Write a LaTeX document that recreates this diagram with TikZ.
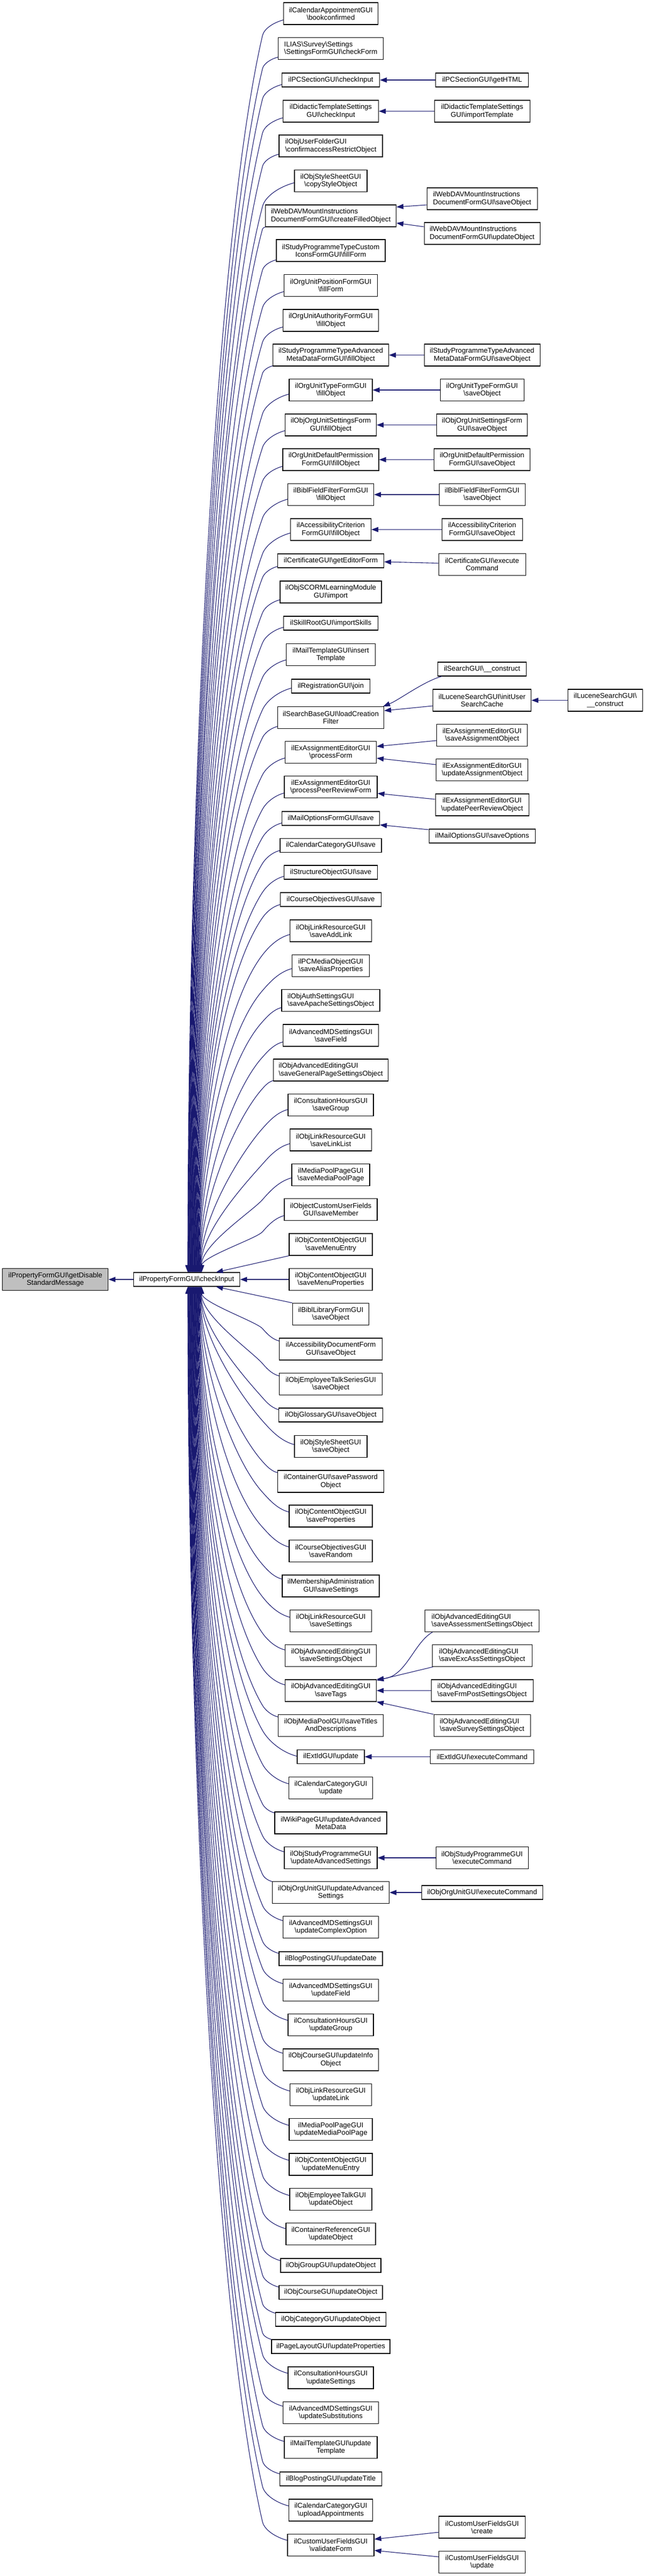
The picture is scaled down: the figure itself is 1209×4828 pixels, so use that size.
\documentclass[tikz,border=0pt]{standalone}
\usepackage{fontspec}
\setmainfont{Liberation Sans}
\usetikzlibrary{arrows.meta,calc}
\definecolor{edgeblue}{HTML}{191970}
\definecolor{rootgray}{HTML}{BFBFBF}
\newcommand\bksl{\textbackslash}
\tikzset{
  fn/.style={draw=black, line width=1.2pt, fill=white, inner sep=0pt, align=center,
     font=\fontsize{13.2pt}{14.3pt}\selectfont, minimum height=41pt},
  one/.style={minimum height=26pt},
  lft/.style={align=left},
  edge/.style={draw=edgeblue, line width=1.1pt, -{Triangle[length=13pt,width=9.5pt]}},
}
% column 3 and column 4 node helpers
\newcommand\nodeC[4][]{\node[fn,#1,minimum width=#3pt] (#2) at (620,-#4)}
\newcommand\nodeD[4][]{\node[fn,#1,minimum width=#3pt] (#2) at (903.6,-#4)}
\newcommand\upedge[2]{%
\draw[edge] let \p4=(#1.east), \p5=(#1.west), \p6=(#1.north),
  \n5={min(\y6-\y4,0.4*((\x4-\x5)/2-60)*(\y6-\y4)/20.5)},
  \p1=({\x5},{\y4-\n5}),
  \n6={\x1-492},
  \p3=({492},{\y1-0.75*\n6}),
  \p2=([xshift=#2pt]ci.north),
  \n1={\y3-\y2},
  \n2={0.63*min(1,\n1/500)*(\x3-\x2)},
  \n3={0.164*\n1},
  \n4={veclen(\n2,\n3)}
 in (\p1) .. controls ({\x1-0.45*\n6},{\y1-0.12*\n6}) and ({\x3+0.35*\n6*\n2/\n4},{\y3+0.35*\n6*\n3/\n4}) .. (\p3)
 .. controls ({\x3-\n2},{\y3-\n3}) and ({\x2},{\y2+0.38*\n1}) .. (\p2);}
\newcommand\downedge[2]{%
\draw[edge] let \p4=(#1.east), \p5=(#1.west), \p6=(#1.north),
  \n5={min(\y6-\y4,0.4*((\x4-\x5)/2-60)*(\y6-\y4)/20.5)},
  \p1=({\x5},{\y4+\n5}),
  \n6={\x1-492},
  \p3=({492},{\y1+0.75*\n6}),
  \p2=([xshift=#2pt]ci.south),
  \n1={\y2-\y3},
  \n2={0.63*min(1,\n1/500)*(\x3-\x2)},
  \n3={0.164*\n1},
  \n4={veclen(\n2,\n3)}
 in (\p1) .. controls ({\x1-0.45*\n6},{\y1+0.12*\n6}) and ({\x3+0.35*\n6*\n2/\n4},{\y3-0.35*\n6*\n3/\n4}) .. (\p3)
 .. controls ({\x3-\n2},{\y3+\n3}) and ({\x2},{\y2-0.38*\n1}) .. (\p2);}
\begin{document}
\begin{tikzpicture}[x=1pt,y=1pt]
\useasboundingbox (0,0) rectangle (1209,-4828);
\fill[white] (0,0) rectangle (1209,-4828);

% root and checkInput
\node[fn, fill=rootgray, minimum width=198pt] (root) at (103.7,-2398) {ilPropertyFormGUI\bksl getDisable\\StandardMessage};
\node[fn, one, minimum width=199pt] (ci) at (350,-2398) {ilPropertyFormGUI\bksl checkInput};

% column 3
\nodeC{n1}{177}{25.5} {ilCalendarAppointmentGUI\\\bksl bookconfirmed};
\nodeC[lft]{n2}{197}{91} {ILIAS\bksl Survey\bksl Settings\\\bksl SettingsFormGUI\bksl checkForm};
\nodeC[one]{n3}{183}{150} {ilPCSectionGUI\bksl checkInput};
\nodeC{n4}{179}{208.5} {ilDidacticTemplateSettings\\GUI\bksl checkInput};
\nodeC[lft]{n5}{194}{273.5} {ilObjUserFolderGUI\\\bksl confirmaccessRestrictObject};
\nodeC{n6}{136}{339} {ilObjStyleSheetGUI\\\bksl copyStyleObject};
\nodeC[lft]{n7}{245}{404.5} {ilWebDAVMountInstructions\\DocumentFormGUI\bksl createFilledObject};
\nodeC{n8}{204}{469.5} {ilStudyProgrammeTypeCustom\\IconsFormGUI\bksl fillForm};
\nodeC{n9}{175}{535} {ilOrgUnitPositionFormGUI\\\bksl fillForm};
\nodeC{n10}{179}{600.5} {ilOrgUnitAuthorityFormGUI\\\bksl fillObject};
\nodeC{n11}{217}{665.5} {ilStudyProgrammeTypeAdvanced\\MetaDataFormGUI\bksl fillObject};
\nodeC{n12}{156}{731} {ilOrgUnitTypeFormGUI\\\bksl fillObject};
\nodeC{n13}{171}{796.5} {ilObjOrgUnitSettingsForm\\GUI\bksl fillObject};
\nodeC{n14}{180}{861.5} {ilOrgUnitDefaultPermission\\FormGUI\bksl fillObject};
\nodeC{n15}{161}{927} {ilBiblFieldFilterFormGUI\\\bksl fillObject};
\nodeC{n16}{151}{992.5} {ilAccessibilityCriterion\\FormGUI\bksl fillObject};
\nodeC[one]{n17}{199}{1051} {ilCertificateGUI\bksl getEditorForm};
\nodeC{n18}{190}{1109.5} {ilObjSCORMLearningModule\\GUI\bksl import};
\nodeC[one]{n19}{177}{1168} {ilSkillRootGUI\bksl importSkills};
\nodeC{n20}{167}{1227} {ilMailTemplateGUI\bksl insert\\Template};
\nodeC[one]{n21}{147}{1286} {ilRegistrationGUI\bksl join};
\nodeC{n22}{199}{1345} {ilSearchBaseGUI\bksl loadCreation\\Filter};
\nodeC{n23}{171}{1410} {ilExAssignmentEditorGUI\\\bksl processForm};
\nodeC{n24}{174}{1475} {ilExAssignmentEditorGUI\\\bksl processPeerReviewForm};
\nodeC[one]{n25}{183}{1534} {ilMailOptionsFormGUI\bksl save};
\nodeC[one]{n26}{190}{1584.5} {ilCalendarCategoryGUI\bksl save};
\nodeC[one]{n27}{175}{1635} {ilStructureObjectGUI\bksl save};
\nodeC[one]{n28}{189}{1686} {ilCourseObjectivesGUI\bksl save};
\nodeC{n29}{153}{1744.5} {ilObjLinkResourceGUI\\\bksl saveAddLink};
\nodeC{n30}{145}{1810} {ilPCMediaObjectGUI\\\bksl saveAliasProperties};
\nodeC[lft]{n31}{184}{1875} {ilObjAuthSettingsGUI\\\bksl saveApacheSettingsObject};
\nodeC{n32}{179}{1940.5} {ilAdvancedMDSettingsGUI\\\bksl saveField};
\nodeC[lft]{n33}{215}{2005.5} {ilObjAdvancedEditingGUI\\\bksl saveGeneralPageSettingsObject};
\nodeC{n34}{160}{2071} {ilConsultationHoursGUI\\\bksl saveGroup};
\nodeC{n35}{153}{2136.5} {ilObjLinkResourceGUI\\\bksl saveLinkList};
\nodeC{n36}{146}{2202} {ilMediaPoolPageGUI\\\bksl saveMediaPoolPage};
\nodeC{n37}{174}{2267} {ilObjectCustomUserFields\\GUI\bksl saveMember};
\nodeC{n38}{156}{2332.5} {ilObjContentObjectGUI\\\bksl saveMenuEntry};
\nodeC{n39}{156}{2398} {ilObjContentObjectGUI\\\bksl saveMenuProperties};
\nodeC{n40}{143}{2463} {ilBiblLibraryFormGUI\\\bksl saveObject};
\nodeC{n41}{193}{2528.5} {ilAccessibilityDocumentForm\\GUI\bksl saveObject};
\nodeC{n42}{193}{2594} {ilObjEmployeeTalkSeriesGUI\\\bksl saveObject};
\nodeC[one]{n43}{195}{2652} {ilObjGlossaryGUI\bksl saveObject};
\nodeC{n44}{136}{2711} {ilObjStyleSheetGUI\\\bksl saveObject};
\nodeC{n45}{199}{2776.5} {ilContainerGUI\bksl savePassword\\Object};
\nodeC{n46}{156}{2841.5} {ilObjContentObjectGUI\\\bksl saveProperties};
\nodeC{n47}{156}{2907} {ilCourseObjectivesGUI\\\bksl saveRandom};
\nodeC{n48}{182}{2972.5} {ilMembershipAdministration\\GUI\bksl saveSettings};
\nodeC{n49}{153}{3038} {ilObjLinkResourceGUI\\\bksl saveSettings};
\nodeC{n50}{171}{3103} {ilObjAdvancedEditingGUI\\\bksl saveSettingsObject};
\nodeC{n51}{171}{3168.5} {ilObjAdvancedEditingGUI\\\bksl saveTags};
\nodeC{n52}{197}{3234} {ilObjMediaPoolGUI\bksl saveTitles\\AndDescriptions};
\nodeC[one]{n53}{126}{3292.5} {ilExtIdGUI\bksl update};
\nodeC{n54}{157}{3351} {ilCalendarCategoryGUI\\\bksl update};
\nodeC{n55}{210}{3416.5} {ilWikiPageGUI\bksl updateAdvanced\\MetaData};
\nodeC{n56}{174}{3482} {ilObjStudyProgrammeGUI\\\bksl updateAdvancedSettings};
\nodeC{n57}{219}{3547} {ilObjOrgUnitGUI\bksl updateAdvanced\\Settings};
\nodeC{n58}{179}{3612} {ilAdvancedMDSettingsGUI\\\bksl updateComplexOption};
\nodeC[one]{n59}{194}{3671} {ilBlogPostingGUI\bksl updateDate};
\nodeC{n60}{179}{3730} {ilAdvancedMDSettingsGUI\\\bksl updateField};
\nodeC{n61}{160}{3795} {ilConsultationHoursGUI\\\bksl updateGroup};
\nodeC{n62}{179}{3860.5} {ilObjCourseGUI\bksl updateInfo\\Object};
\nodeC{n63}{153}{3926} {ilObjLinkResourceGUI\\\bksl updateLink};
\nodeC{n64}{156}{3991} {ilMediaPoolPageGUI\\\bksl updateMediaPoolPage};
\nodeC{n65}{156}{4056.5} {ilObjContentObjectGUI\\\bksl updateMenuEntry};
\nodeC{n66}{154}{4122} {ilObjEmployeeTalkGUI\\\bksl updateObject};
\nodeC{n67}{168}{4187} {ilContainerReferenceGUI\\\bksl updateObject};
\nodeC[one]{n68}{188}{4246} {ilObjGroupGUI\bksl updateObject};
\nodeC[one]{n69}{194}{4296.5} {ilObjCourseGUI\bksl updateObject};
\nodeC[one]{n70}{207}{4347} {ilObjCategoryGUI\bksl updateObject};
\nodeC[one]{n71}{222}{4398} {ilPageLayoutGUI\bksl updateProperties};
\nodeC{n72}{160}{4456.5} {ilConsultationHoursGUI\\\bksl updateSettings};
\nodeC{n73}{179}{4522} {ilAdvancedMDSettingsGUI\\\bksl updateSubstitutions};
\nodeC{n74}{174}{4587} {ilMailTemplateGUI\bksl update\\Template};
\nodeC[one]{n75}{191}{4646} {ilBlogPostingGUI\bksl updateTitle};
\nodeC{n76}{157}{4704.5} {ilCalendarCategoryGUI\\\bksl uploadAppointments};
\nodeC{n77}{162}{4770} {ilCustomUserFieldsGUI\\\bksl validateForm};

% column 4
\nodeD[one]{m3}{174}{150} {ilPCSectionGUI\bksl getHTML};
\nodeD{m4}{179}{208.5} {ilDidacticTemplateSettings\\GUI\bksl importTemplate};
\nodeD[lft]{m7a}{207}{372.5} {ilWebDAVMountInstructions\\DocumentFormGUI\bksl saveObject};
\nodeD[lft]{m7b}{217}{437.5} {ilWebDAVMountInstructions\\DocumentFormGUI\bksl updateObject};
\nodeD{m11}{217}{665.5} {ilStudyProgrammeTypeAdvanced\\MetaDataFormGUI\bksl saveObject};
\nodeD{m12}{157}{731} {ilOrgUnitTypeFormGUI\\\bksl saveObject};
\nodeD{m13}{170}{796.5} {ilObjOrgUnitSettingsForm\\GUI\bksl saveObject};
\nodeD{m14}{180}{861.5} {ilOrgUnitDefaultPermission\\FormGUI\bksl saveObject};
\nodeD{m15}{161}{927} {ilBiblFieldFilterFormGUI\\\bksl saveObject};
\nodeD{m16}{151}{992.5} {ilAccessibilityCriterion\\FormGUI\bksl saveObject};
\nodeD{m17}{163}{1058} {ilCertificateGUI\bksl execute\\Command};
\nodeD[one]{m22a}{166}{1254} {ilSearchGUI\bksl\_\_construct};
\nodeD{m22b}{184}{1312.5} {ilLuceneSearchGUI\bksl initUser\\SearchCache};
\nodeD{m23a}{170}{1378} {ilExAssignmentEditorGUI\\\bksl saveAssignmentObject};
\nodeD{m23b}{172}{1443} {ilExAssignmentEditorGUI\\\bksl updateAssignmentObject};
\nodeD{m24}{175}{1508.5} {ilExAssignmentEditorGUI\\\bksl updatePeerReviewObject};
\nodeD[one]{m25}{199}{1567} {ilMailOptionsGUI\bksl saveOptions};
\nodeD[lft]{m51a}{214}{3038} {ilObjAdvancedEditingGUI\\\bksl saveAssessmentSettingsObject};
\nodeD[lft]{m51b}{187}{3103} {ilObjAdvancedEditingGUI\\\bksl saveExcAssSettingsObject};
\nodeD[lft]{m51c}{191}{3168.5} {ilObjAdvancedEditingGUI\\\bksl saveFrmPostSettingsObject};
\nodeD[lft]{m51d}{181}{3234} {ilObjAdvancedEditingGUI\\\bksl saveSurveySettingsObject};
\nodeD[one]{m53}{194}{3292.5} {ilExtIdGUI\bksl executeCommand};
\nodeD{m56}{173}{3482} {ilObjStudyProgrammeGUI\\\bksl executeCommand};
\nodeD[one]{m57}{227}{3547} {ilObjOrgUnitGUI\bksl executeCommand};
\nodeD{m77a}{162}{4736.5} {ilCustomUserFieldsGUI\\\bksl create};
\nodeD{m77b}{162}{4802} {ilCustomUserFieldsGUI\\\bksl update};

% column 5
\node[fn, minimum width=140pt] (l22) at (1134.5,-1312.5) {ilLuceneSearchGUI\bksl\\\_\_construct};

% edges into checkInput
\foreach \k in {1,...,37} {
  \pgfmathsetmacro\dx{2+26*(\k-1)/36}
  \upedge{n\k}{\dx}
}
\foreach \k in {41,...,77} {
  \pgfmathsetmacro\dx{28-26*(\k-41)/36}
  \downedge{n\k}{\dx}
}
\draw[edge] (n38.south west) -- ([xshift=55pt]ci.north);
\draw[edge] (n39) -- (ci);
\draw[edge] (n40.north west) -- ([xshift=55pt]ci.south);
\draw[edge] (ci) -- (root);

% column 4 -> column 3
\draw[edge] (m3) -- (n3);
\draw[edge] (m4) -- (n4);
\draw[edge] ([yshift=-11.5pt]m7a.west) -- ([yshift=16.5pt]n7.east);
\draw[edge] ([yshift=12.5pt]m7b.west) -- ([yshift=-13.5pt]n7.east);
\draw[edge] (m11) -- (n11);
\draw[edge] (m12) -- (n12);
\draw[edge] (m13) -- (n13);
\draw[edge] (m14) -- (n14);
\draw[edge] (m15) -- (n15);
\draw[edge] (m16) -- (n16);
\draw[edge] ([yshift=2.5pt]m17.west) -- ([yshift=-2pt]n17.east);
\draw[edge] ([xshift=8pt]m22a.south west) .. controls +(-35,-10) and +(30,12) .. ([xshift=-2pt]n22.north east);
\draw[edge] ([yshift=-10.5pt]m22b.west) -- ([yshift=13pt]n22.east);
\draw[edge] (l22) -- (m22b);
\draw[edge] ([yshift=-10pt]m23a.west) -- ([yshift=11pt]n23.east);
\draw[edge] ([yshift=10pt]m23b.west) -- ([yshift=-11pt]n23.east);
\draw[edge] ([yshift=10.5pt]m24.west) -- ([yshift=-12pt]n24.east);
\draw[edge] ([yshift=12pt]m25.west) -- ([yshift=-12pt]n25.east);
\draw[edge] ([xshift=14.5pt]m51a.south west) .. controls +(-35,-20) and +(55,5) .. (n51.north east);
\draw[edge] ([xshift=2pt]m51b.south west) -- ([yshift=-2pt]n51.north east);
\draw[edge] (m51c) -- (n51);
\draw[edge] (m51d.north west) -- (n51.south east);
\draw[edge] (m53) -- (n53);
\draw[edge] (m56) -- (n56);
\draw[edge] (m57) -- (n57);
\draw[edge] ([yshift=-9.5pt]m77a.west) -- ([yshift=11pt]n77.east);
\draw[edge] ([yshift=10pt]m77b.west) -- ([yshift=-10pt]n77.east);
\end{tikzpicture}
\end{document}
